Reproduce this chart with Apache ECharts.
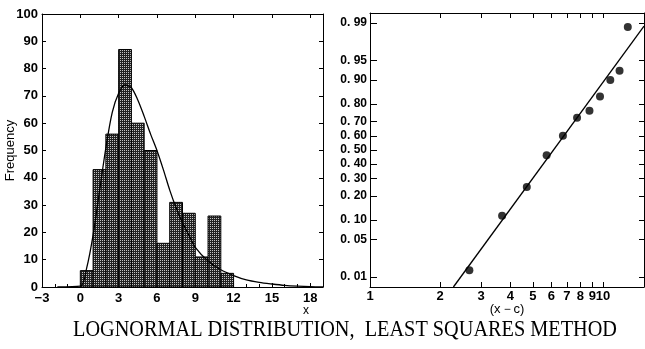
<!DOCTYPE html>
<html>
<head>
<meta charset="utf-8">
<script src="https://cdn.jsdelivr.net/npm/echarts@6/dist/echarts.min.js"></script>
<style>
  html, body { margin: 0; padding: 0; background: #fff; }
  #chart { width: 645px; height: 349px; }
</style>
</head>
<body>
<div id="chart"></div>
<script>
// histogram (left)
const histEdges = [0, 1, 2, 3, 4, 5, 6, 7, 8, 9, 10, 11, 12]
const histCounts = [6, 43, 56, 87, 60, 50, 16, 31, 27, 11, 26, 5]

// fitted lognormal density
const curveX = [-1.8, 0, 0.5, 1, 1.5, 2, 2.5, 3, 3.5, 4, 4.5, 5, 5.5, 6, 6.5, 7, 7.5, 8, 8.5, 9, 10, 11, 12, 13, 14, 15, 16, 17, 18, 19]
const curveY = [0, 0.3, 7, 19, 35, 51, 64, 71, 74, 73, 68.5, 62.5, 56, 50, 43, 35.5, 29, 23.5, 19, 14.5, 9.5, 6.3, 4.2, 2.6, 1.7, 1.1, 0.6, 0.3, 0.1, 0]

// probability plot (right)
const plotX = [2.67, 3.69, 4.71, 5.73, 6.73, 7.74, 8.75, 9.71, 10.75, 11.78, 12.78]
const plotP = [0.0137, 0.1144, 0.249, 0.461, 0.603, 0.723, 0.764, 0.837, 0.900, 0.927, 0.988]
const fitX = [2.28, 15]
const fitP = [0.006, 0.9885]
const logTicks = [1, 2, 3, 4, 5, 6, 7, 8, 9, 10]
const probTicks = [0.01, 0.05, 0.10, 0.20, 0.30, 0.40, 0.50, 0.60, 0.70, 0.80, 0.90, 0.95, 0.99]
const probLabels = ['0. 01', '0. 05', '0. 10', '0. 20', '0. 30', '0. 40', '0. 50', '0. 60', '0. 70', '0. 80', '0. 90', '0. 95', '0. 99']
const probRange = [0.006, 0.994]

const titleText = 'LOGNORMAL DISTRIBUTION,  LEAST SQUARES METHOD'

// inverse normal CDF (Acklam) – used as the probability-paper scale
function probit (p) {
  const a = [-39.69683028665376, 220.9460984245205, -275.9285104469687, 138.3577518672690, -30.66479806614716, 2.506628277459239]
  const b = [-54.47609879822406, 161.5858368580409, -155.6989798598866, 66.80131188771972, -13.28068155288572]
  const c = [-0.007784894002430293, -0.3223964580411365, -2.400758277161838, -2.549732539343734, 4.374664141464968, 2.938163982698783]
  const d = [0.007784695709041462, 0.3224671290700398, 2.445134137142996, 3.754408661907416]
  const plow = 0.02425
  let q, r
  if (p < plow) {
    q = Math.sqrt(-2 * Math.log(p))
    return (((((c[0] * q + c[1]) * q + c[2]) * q + c[3]) * q + c[4]) * q + c[5]) /
      ((((d[0] * q + d[1]) * q + d[2]) * q + d[3]) * q + 1)
  }
  if (p <= 1 - plow) {
    q = p - 0.5
    r = q * q
    return (((((a[0] * r + a[1]) * r + a[2]) * r + a[3]) * r + a[4]) * r + a[5]) * q /
      (((((b[0] * r + b[1]) * r + b[2]) * r + b[3]) * r + b[4]) * r + 1)
  }
  q = Math.sqrt(-2 * Math.log(1 - p))
  return -(((((c[0] * q + c[1]) * q + c[2]) * q + c[3]) * q + c[4]) * q + c[5]) /
    ((((d[0] * q + d[1]) * q + d[2]) * q + d[3]) * q + 1)
}

const probTickZ = probTicks.map(probit)

// stipple fill for the bars
const tile = document.createElement('canvas')
tile.width = 2
tile.height = 2
const tctx = tile.getContext('2d')
tctx.fillStyle = '#222'
tctx.fillRect(0, 0, 2, 2)
tctx.fillStyle = '#c4c4c4'
tctx.fillRect(0, 0, 1, 1)

// squeeze the serif title to the width of the original
const mctx = document.createElement('canvas').getContext('2d')
const titleFont = '23px "Liberation Serif", serif'
mctx.font = titleFont
const titleScale = 544 / mctx.measureText(titleText).width

const FONT = '"Liberation Sans", Arial, sans-serif'
const labelStyle = { color: '#000', fontFamily: FONT, fontSize: 13, fontWeight: 'bold' }

const chart = echarts.init(document.getElementById('chart'), null, { renderer: 'canvas' })

const histData = histCounts.map((v, i) => [histEdges[i], histEdges[i + 1], v])
const curveData = curveX.map((x, i) => [x, curveY[i]])
const plotData = plotX.map((x, i) => [x, probit(plotP[i])])
const fitData = fitX.map((x, i) => [x, probit(fitP[i])])

const frameLine = { show: true, onZero: false, lineStyle: { color: '#000', width: 1 } }

const option = {
  animation: false,
  backgroundColor: '#fff',
  grid: [
    { left: 42, top: 14, width: 281, height: 273 },
    { left: 370, top: 13, width: 274, height: 274 }
  ],
  xAxis: [
    {
      gridIndex: 0,
      type: 'value',
      min: -3,
      max: 19,
      interval: 3,
      axisLine: frameLine,
      axisTick: { inside: true, length: 4, lineStyle: { color: '#000' } },
      minorTick: { show: true, splitNumber: 3, length: 3, lineStyle: { color: '#000' } },
      splitLine: { show: false },
      axisLabel: {
        ...labelStyle,
        margin: 5,
        showMaxLabel: false,
        formatter: v => (v < 0 ? '\u2212' + Math.abs(v) : String(v))
      }
    },
    {
      gridIndex: 0,
      type: 'value',
      position: 'top',
      min: -3,
      max: 19,
      interval: 3,
      axisLine: frameLine,
      axisTick: { inside: true, length: 4, lineStyle: { color: '#000' } },
      splitLine: { show: false },
      axisLabel: { show: false }
    },
    {
      gridIndex: 1,
      type: 'log',
      logBase: 10,
      min: 1,
      max: 15,
      name: '(x\uff0dc)',
      nameLocation: 'middle',
      nameGap: 16,
      nameMoveOverlap: false,
      nameTextStyle: { color: '#000', fontFamily: FONT, fontSize: 13 },
      axisLine: frameLine,
      axisTick: { inside: true, length: 5, customValues: logTicks, lineStyle: { color: '#000' } },
      splitLine: { show: false },
      minorTick: { show: false },
      axisLabel: { ...labelStyle, margin: 3, customValues: logTicks, formatter: v => String(Math.round(v)) }
    },
    {
      gridIndex: 1,
      type: 'log',
      logBase: 10,
      min: 1,
      max: 15,
      position: 'top',
      axisLine: frameLine,
      axisTick: { inside: true, length: 5, customValues: logTicks, lineStyle: { color: '#000' } },
      splitLine: { show: false },
      axisLabel: { show: false }
    }
  ],
  yAxis: [
    {
      gridIndex: 0,
      type: 'value',
      min: 0,
      max: 100,
      interval: 10,
      name: 'Frequency',
      nameLocation: 'middle',
      nameGap: 25,
      nameMoveOverlap: false,
      nameRotate: 90,
      nameTextStyle: { color: '#000', fontFamily: FONT, fontSize: 13 },
      axisLine: frameLine,
      axisTick: { inside: true, length: 4, lineStyle: { color: '#000' } },
      splitLine: { show: false },
      axisLabel: { ...labelStyle, margin: 4 }
    },
    {
      gridIndex: 0,
      type: 'value',
      position: 'right',
      min: 0,
      max: 100,
      interval: 10,
      axisLine: frameLine,
      axisTick: { inside: true, length: 4, lineStyle: { color: '#000' } },
      splitLine: { show: false },
      axisLabel: { show: false }
    },
    {
      gridIndex: 1,
      type: 'value',
      min: probit(probRange[0]),
      max: probit(probRange[1]),
      axisLine: frameLine,
      axisTick: { inside: true, length: 7, customValues: probTickZ, lineStyle: { color: '#000' } },
      splitLine: { show: false },
      axisLabel: {
        ...labelStyle,
        fontSize: 12,
        margin: 3,
        customValues: probTickZ,
        formatter: v => {
          let best = 0
          probTickZ.forEach((z, i) => { if (Math.abs(z - v) < Math.abs(probTickZ[best] - v)) best = i })
          return probLabels[best]
        }
      }
    },
    {
      gridIndex: 1,
      type: 'value',
      position: 'right',
      min: probit(probRange[0]),
      max: probit(probRange[1]),
      axisLine: frameLine,
      axisTick: { inside: true, length: 5, customValues: probTickZ, lineStyle: { color: '#000' } },
      splitLine: { show: false },
      axisLabel: { show: false }
    }
  ],
  graphic: [
    {
      type: 'text',
      x: 306,
      y: 311,
      style: { text: 'x', font: '12px ' + FONT, fill: '#000', textAlign: 'center', textVerticalAlign: 'middle' }
    },
    {
      type: 'text',
      x: 73,
      y: 330,
      scaleX: titleScale,
      style: { text: titleText, font: titleFont, fill: '#000', textAlign: 'left', textVerticalAlign: 'middle' }
    }
  ],
  series: [
    {
      type: 'custom',
      xAxisIndex: 0,
      yAxisIndex: 0,
      encode: { x: [0, 1], y: 2 },
      data: histData,
      renderItem: (params, api) => {
        const p0 = api.coord([api.value(0), api.value(2)])
        const p1 = api.coord([api.value(1), 0])
        return {
          type: 'rect',
          shape: { x: p0[0], y: p0[1], width: p1[0] - p0[0], height: p1[1] - p0[1] },
          style: { fill: { image: tile, repeat: 'repeat' }, stroke: '#000', lineWidth: 1 }
        }
      }
    },
    {
      type: 'line',
      xAxisIndex: 0,
      yAxisIndex: 0,
      data: curveData,
      smooth: 0.3,
      symbol: 'none',
      lineStyle: { color: '#000', width: 1.3 }
    },
    {
      type: 'line',
      xAxisIndex: 2,
      yAxisIndex: 2,
      data: fitData,
      symbol: 'none',
      lineStyle: { color: '#000', width: 1.3 }
    },
    {
      type: 'scatter',
      xAxisIndex: 2,
      yAxisIndex: 2,
      data: plotData,
      symbol: 'circle',
      symbolSize: 8,
      itemStyle: { color: '#000' }
    }
  ]
}

chart.setOption(option)
</script>
</body>
</html>
